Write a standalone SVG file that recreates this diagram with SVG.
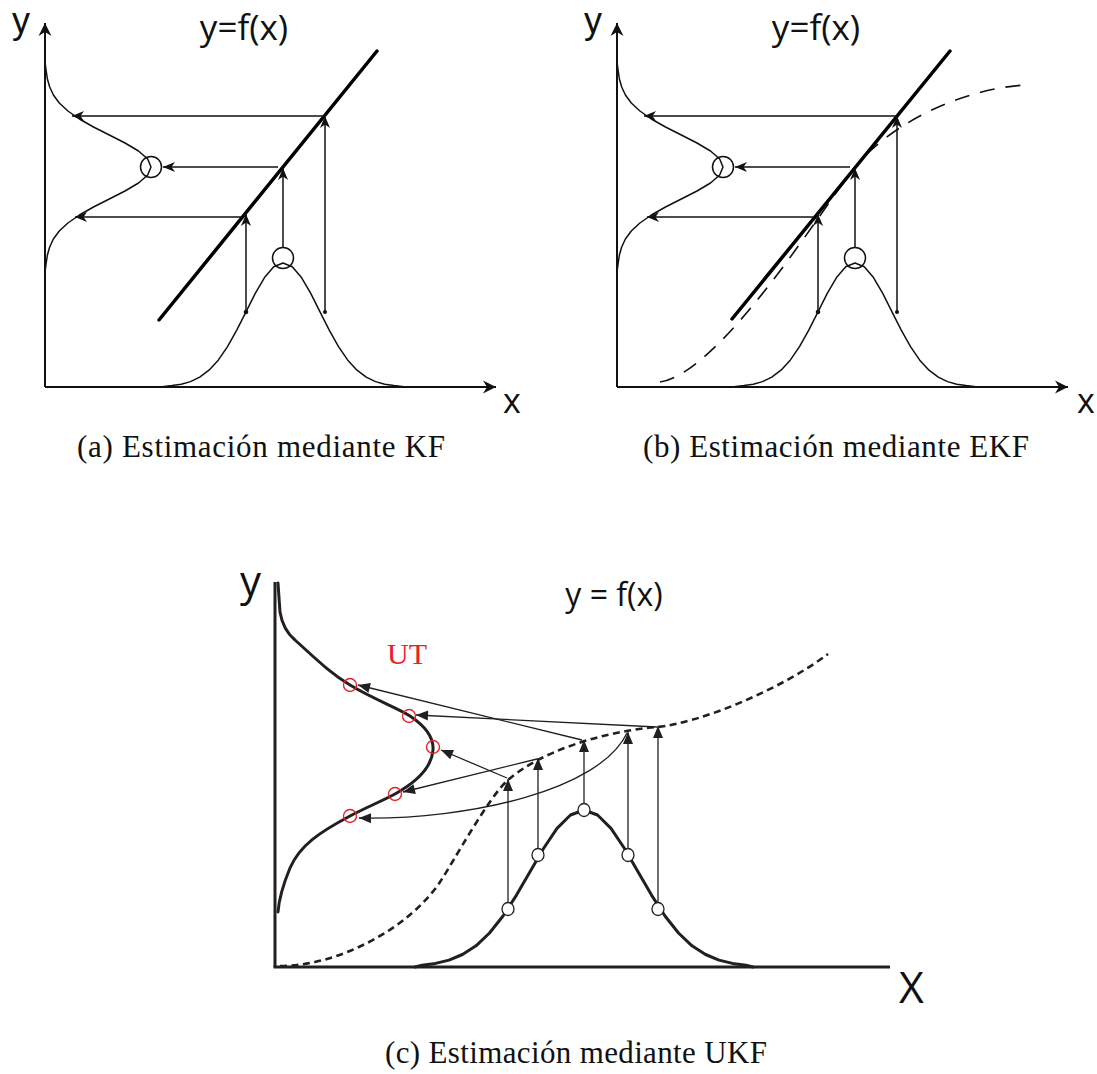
<svg xmlns="http://www.w3.org/2000/svg" width="1097" height="1074" viewBox="0 0 1097 1074">
<style>
.ln{fill:none;stroke:#111;stroke-width:1.5;stroke-linejoin:round;stroke-linecap:round}
.axis{fill:none;stroke:#111;stroke-width:2}
.diag{fill:none;stroke:#000;stroke-width:3.5;stroke-linecap:round}
.dash{fill:none;stroke:#111;stroke-width:1.6;stroke-dasharray:15 11}
.circ{fill:none;stroke:#111;stroke-width:1.5}
.dot{fill:#111}
.lab{font-family:"Open Sans","DejaVu Sans",sans-serif;fill:#111}
.ylab{font-family:"Liberation Sans",Arial,sans-serif;fill:#111}
.cap{font-family:"Liberation Serif","Times New Roman",serif;font-size:31px;fill:#111}
.arr{fill:none;stroke:#111;stroke-width:1.5;marker-end:url(#ah)}
.caxis{fill:none;stroke:#231f20;stroke-width:3}
.cthick{fill:none;stroke:#231f20;stroke-width:3;stroke-linejoin:round;stroke-linecap:round}
.cdash{fill:none;stroke:#231f20;stroke-width:2.6;stroke-dasharray:7 4.5}
.carr{fill:none;stroke:#231f20;stroke-width:1.3;marker-end:url(#tri)}
.sig{fill:#fff;stroke:#231f20;stroke-width:1.3}
.red{fill:none;stroke:#e8202a;stroke-width:1.4}
</style>
<defs>
<marker id="ah" viewBox="-13 -6 14 12" refX="0" refY="0" markerWidth="14" markerHeight="12" orient="auto" markerUnits="userSpaceOnUse"><path d="M0,0 L-12,-5 L-8.5,0 L-12,5 Z" fill="#111"/></marker>
<marker id="axh" viewBox="-14 -7 15 14" refX="0" refY="0" markerWidth="15" markerHeight="14" orient="auto" markerUnits="userSpaceOnUse"><path d="M0,0 L-13,-6.5 L-9,0 L-13,6.5 Z" fill="#111"/></marker>
<marker id="tri" viewBox="-13 -6 14 12" refX="0" refY="0" markerWidth="14" markerHeight="12" orient="auto" markerUnits="userSpaceOnUse"><path d="M0,0 L-12,-5 L-12,5 Z" fill="#231f20"/></marker>
</defs>

<!-- Panel (a) -->
<g id="panel-a">
  <g id="a-axes">
    <path class="axis" d="M45,387 L45,23" marker-end="url(#axh)"/>
    <path class="axis" d="M45,387 L496,387" marker-end="url(#axh)"/>
    <text class="ylab" x="12" y="33" font-size="36">y</text>
    <text class="lab" x="503" y="413" font-size="34">x</text>
    <text class="lab" x="244" y="40" font-size="35" text-anchor="middle">y=f(x)</text>
  </g>
  <g id="a-function"><path class="diag" d="M159,320 L377,51"/></g>
  <g id="a-input-pdf">
    <polyline class="ln" points="160,387 172,385.6 181.25,384.2 190.5,381.6 199.75,377.1 209,370.2 218.25,360.2 227.5,346.7 236.75,330.2 246,311.8 255.25,293.4 264.5,277.6 273.75,266.8 283,263 292.25,266.8 301.5,277.6 310.75,293.4 320,311.8 329.25,330.2 338.5,346.7 347.75,360.2 357,370.2 366.25,377.1 375.5,381.6 384.75,384.2 394,385.6 406,387"/>
    <circle class="circ" cx="283" cy="258" r="10.5"/>
    <circle class="dot" cx="246" cy="312" r="2.3"/>
    <circle class="dot" cx="325" cy="312" r="2"/>
  </g>
  <g id="a-output-pdf">
    <polyline class="ln" points="45,62 46.2,71 47.4,79 49.7,87 53.4,95 59.3,103 67.9,111 79.4,119 93.5,127 109.3,135 125,143 138.5,151 147.7,159 151,167 147.7,175 138.5,183 125,191 109.3,199 93.5,207 79.4,215 67.9,223 59.3,231 53.4,239 49.7,247 47.4,255 46.2,263 45,272"/>
    <circle class="circ" cx="151" cy="167" r="10.5"/>
  </g>
  <g id="a-connectors">
    <path class="arr" d="M246,312 L246,214"/>
    <path class="arr" d="M283,248 L283,168"/>
    <path class="arr" d="M325,312 L325,116"/>
    <path class="arr" d="M325,116 L72,116"/>
    <path class="arr" d="M278,167 L163,167"/>
    <path class="arr" d="M241,217 L75,217"/>
  </g>
  <text class="cap" x="77" y="457" textLength="368" lengthAdjust="spacing">(a) Estimación mediante KF</text>
</g>

<!-- Panel (b) -->
<g id="panel-b">
  <g transform="translate(572,0)">
    <g id="b-axes">
      <path class="axis" d="M45,387 L45,23" marker-end="url(#axh)"/>
      <path class="axis" d="M45,387 L496,387" marker-end="url(#axh)"/>
      <text class="ylab" x="12" y="33" font-size="36">y</text>
      <text class="lab" x="505" y="413" font-size="34">x</text>
      <text class="lab" x="244" y="40" font-size="35" text-anchor="middle">y=f(x)</text>
    </g>
    <g id="b-nonlinear"><path class="dash" d="M88,382 C150,372 253,204 283,167 C318,124 390,88 455,85"/></g>
    <g id="b-function"><path class="diag" d="M160,319 L378,51"/></g>
    <g id="b-input-pdf">
      <polyline class="ln" points="160,387 172,385.6 181.25,384.2 190.5,381.6 199.75,377.1 209,370.2 218.25,360.2 227.5,346.7 236.75,330.2 246,311.8 255.25,293.4 264.5,277.6 273.75,266.8 283,263 292.25,266.8 301.5,277.6 310.75,293.4 320,311.8 329.25,330.2 338.5,346.7 347.75,360.2 357,370.2 366.25,377.1 375.5,381.6 384.75,384.2 394,385.6 406,387"/>
      <circle class="circ" cx="283" cy="258" r="10.5"/>
      <circle class="dot" cx="246" cy="312" r="2.3"/>
      <circle class="dot" cx="325" cy="312" r="2"/>
    </g>
    <g id="b-output-pdf">
      <polyline class="ln" points="45,62 46.2,71 47.4,79 49.7,87 53.4,95 59.3,103 67.9,111 79.4,119 93.5,127 109.3,135 125,143 138.5,151 147.7,159 151,167 147.7,175 138.5,183 125,191 109.3,199 93.5,207 79.4,215 67.9,223 59.3,231 53.4,239 49.7,247 47.4,255 46.2,263 45,272"/>
      <circle class="circ" cx="151" cy="167" r="10.5"/>
    </g>
    <g id="b-connectors">
      <path class="arr" d="M246,312 L246,214"/>
      <path class="arr" d="M283,248 L283,168"/>
      <path class="arr" d="M325,312 L325,116"/>
      <path class="arr" d="M325,116 L72,116"/>
      <path class="arr" d="M278,167 L163,167"/>
      <path class="arr" d="M241,217 L75,217"/>
    </g>
  </g>
  <text class="cap" x="643" y="457" textLength="386" lengthAdjust="spacing">(b) Estimación mediante EKF</text>
</g>

<!-- Panel (c) -->
<g id="panel-c">
  <g id="c-axes">
    <path class="caxis" d="M275,582 L275,967"/>
    <path class="caxis" d="M273.5,967 L890,967"/>
    <text class="lab" x="240" y="596" font-size="42" fill="#231f20">y</text>
    <text class="lab" x="899" y="1003" font-size="43" fill="#231f20">X</text>
    <text class="lab" x="614" y="606" font-size="32" text-anchor="middle" fill="#231f20">y = f(x)</text>
    <text x="387" y="664" font-family="Liberation Serif, Times New Roman, serif" font-size="30" fill="#e8202a">UT</text>
  </g>
  <g id="c-nonlinear">
    <path class="cdash" d="M280,966 C340,966 410,927 440,882 C452,864 490,795 508,780 C540,752 600,732 657,727 C700,723 780,690 828,654"/>
  </g>
  <g id="c-input-pdf">
    <polyline class="cthick" points="415,967 422,965.3 435.5,963.4 449,960.1 462.5,954.5 476,945.8 489.5,933 503,916 516.5,895.1 530,871.8 543.5,848.5 557,828.4 570.5,815 584,810 597.5,815 611,828.4 624.5,848.5 638,871.8 651.5,895.1 665,916 678.5,933 692,945.8 705.5,954.5 719,960.1 732.5,963.4 746,965.3 753,967"/>
  </g>
  <g id="c-output-pdf">
    <path class="cthick" d="M278,583 L280,612 Q283,630 295,640 C315,658 330,673 350,685 C375,700 398,708 410,716 C425,726 434,737 433,750 C432,765 420,780 395,794 C380,802 365,808 350,816 C320,832 300,845 290,868 C283,885 279,898 278,912"/>
  </g>
  <g id="c-connectors">
    <path class="carr" d="M508,903 L508,779"/>
    <path class="carr" d="M538,849 L538,758"/>
    <path class="carr" d="M584,804 L584,740"/>
    <path class="carr" d="M628,849 L628,732"/>
    <path class="carr" d="M658,903 L658,726"/>
    <path class="carr" d="M582,740 L358,685"/>
    <path class="carr" d="M657,727 L416,715"/>
    <path class="carr" d="M507,778 L441,750"/>
    <path class="carr" d="M537,759 L403,792"/>
    <path class="carr" d="M627,733 C600,790 470,820 359,818"/>
  </g>
  <g id="c-sigma-points">
    <ellipse class="sig" cx="508" cy="909" rx="6" ry="6.5"/>
    <ellipse class="sig" cx="538" cy="855" rx="6" ry="6.5"/>
    <ellipse class="sig" cx="584" cy="810" rx="6" ry="6.5"/>
    <ellipse class="sig" cx="628" cy="855" rx="6" ry="6.5"/>
    <ellipse class="sig" cx="658" cy="909" rx="6" ry="6.5"/>
  </g>
  <g id="c-transformed-points">
    <circle class="red" cx="350" cy="685" r="6.5"/>
    <circle class="red" cx="409" cy="716" r="6.5"/>
    <circle class="red" cx="433" cy="747" r="6.5"/>
    <circle class="red" cx="395" cy="794" r="6.5"/>
    <circle class="red" cx="350" cy="816" r="6.5"/>
  </g>
  <text class="cap" x="385" y="1063" textLength="382" lengthAdjust="spacing">(c) Estimación mediante UKF</text>
</g>
</svg>
